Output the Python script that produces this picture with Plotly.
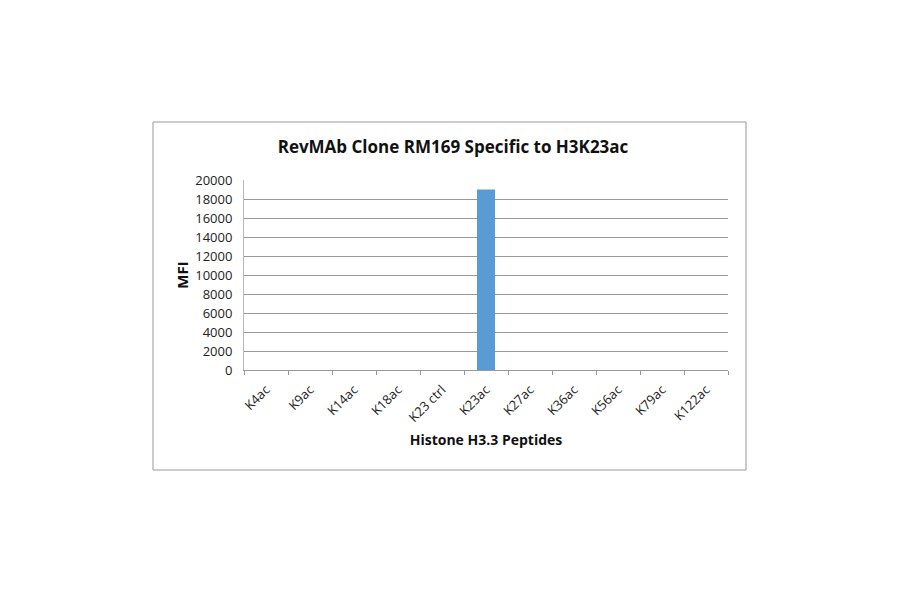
import plotly.graph_objects as go

categories = ["K4ac", "K9ac", "K14ac", "K18ac", "K23 ctrl", "K23ac",
              "K27ac", "K36ac", "K56ac", "K79ac", "K122ac"]
mfi_values = [0, 0, 0, 0, 0, 19000, 0, 0, 0, 0, 0]
y_ticks = [0, 2000, 4000, 6000, 8000, 10000, 12000, 14000, 16000, 18000, 20000]

OFF = 8  # page body margin offset
W, H = 900 - OFF, 594 - OFF
L, R, T, B = 244 - OFF, 728 - OFF, 180 - OFF, 370 - OFF

fig = go.Figure(go.Bar(x=categories, y=mfi_values, marker_color="#5B9BD5",
                       marker_line_width=0))

pw, ph = R - L, B - T
def px_x(p):
    return (p - OFF - L) / pw
def px_y(p):
    return (B - (p - OFF)) / ph

fig.update_layout(
    width=W, height=H,
    margin=dict(l=L, r=W - R, t=T, b=H - B, pad=0),
    paper_bgcolor="white", plot_bgcolor="white",
    bargap=0.59,
    showlegend=False,
    font=dict(family="Open Sans, Noto Sans, sans-serif", color="#222"),
    title=dict(text="<b>RevMAb Clone RM169 Specific to H3K23ac</b>",
               x=(453 - OFF) / W, xanchor="center", y=1 - (147 - OFF) / H, yanchor="middle",
               font=dict(size=17, color="#111")),
    xaxis=dict(tickangle=-45, tickfont=dict(size=13, color="#222"),
               ticks="outside", tickson="boundaries", ticklen=4,
               tickcolor="#999", showline=True, linecolor="#999",
               ticklabelstandoff=6,
               title=dict(text="<b>Histone H3.3 Peptides</b>",
                          font=dict(size=14, color="#111"), standoff=10)),
    yaxis=dict(range=[0, 20000], tickvals=y_ticks, tickformat="d",
               tickfont=dict(size=13, color="#222"),
               showgrid=True, gridcolor="#999", gridwidth=1,
               showline=True, linecolor="#bbb", zeroline=False,
               ticks="", ticklabelstandoff=8,
               title=dict(text="<b>MFI</b>",
                          font=dict(size=15, color="#111"), standoff=2)),
    shapes=[dict(type="rect", xref="paper", yref="paper",
                 x0=px_x(153), x1=px_x(746), y0=px_y(470), y1=px_y(122),
                 line=dict(color="#999", width=1), fillcolor="rgba(0,0,0,0)",
                 layer="below")],
)

fig.write_html("out.html")
